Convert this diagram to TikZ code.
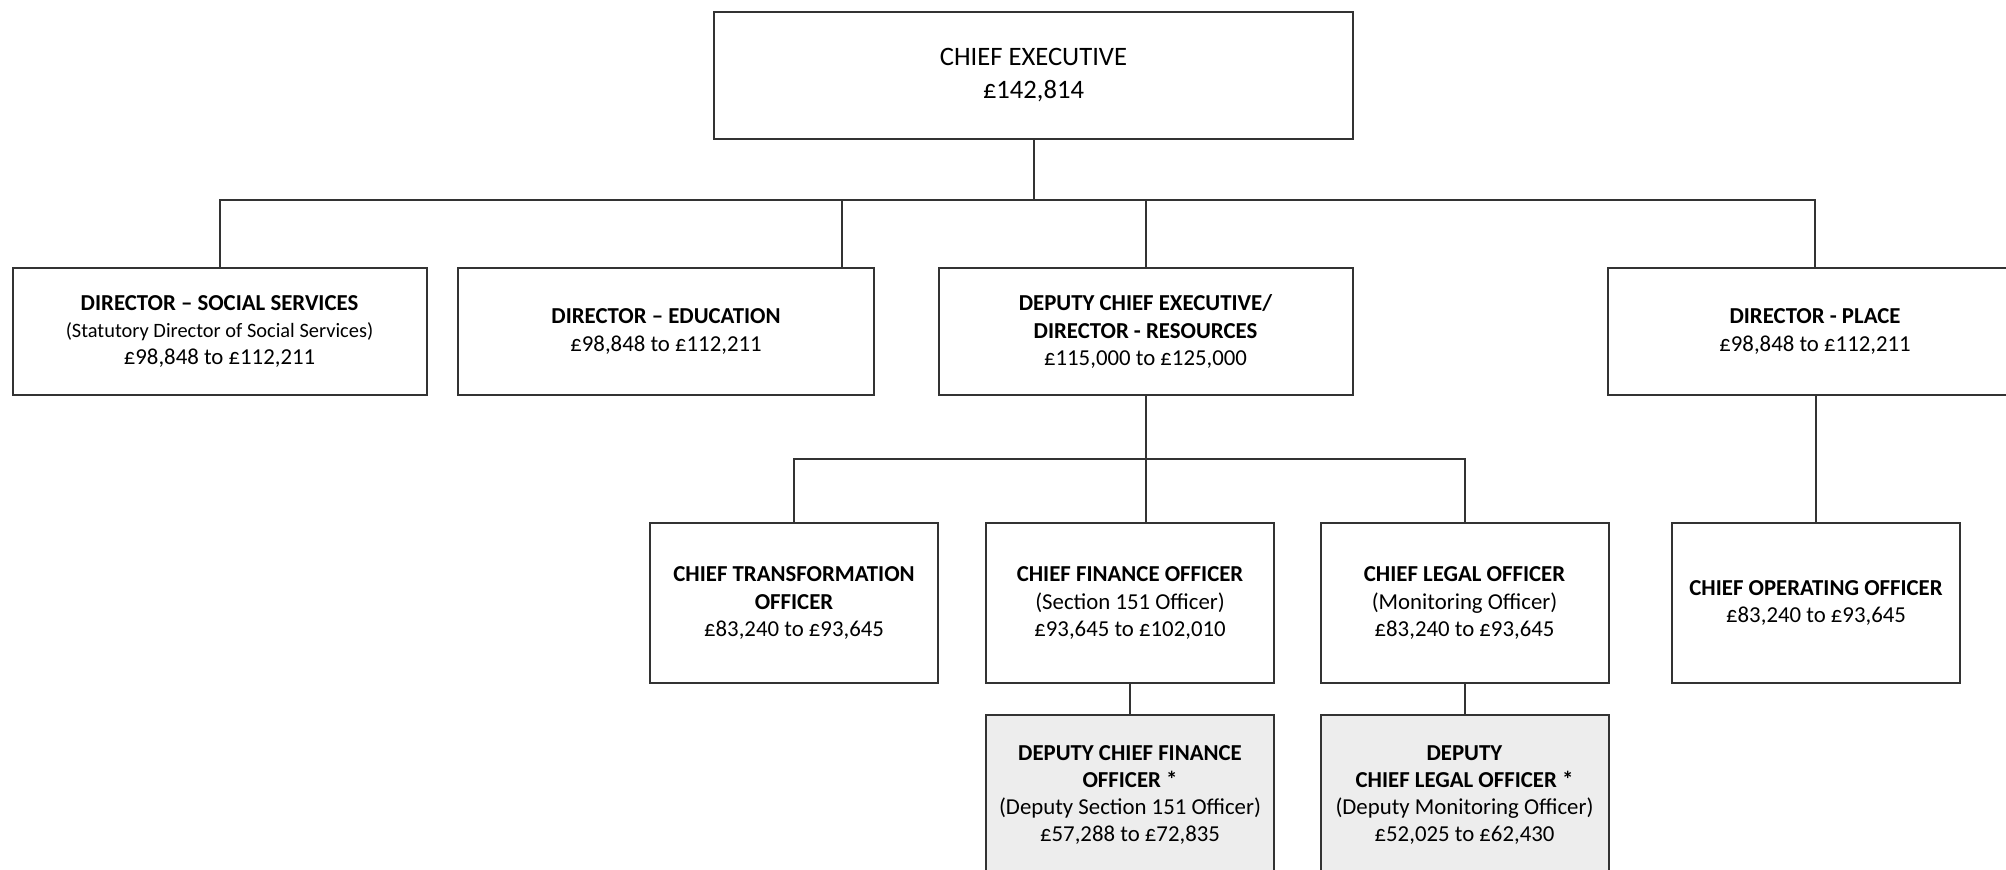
\documentclass[tikz,border=0pt]{standalone}
\usepackage{fontspec}
\setmainfont{Carlito}
\usetikzlibrary{shadows}
\definecolor{linegray}{HTML}{333333}
\definecolor{depfill}{HTML}{EDEDED}
\begin{document}
\begin{tikzpicture}[x=0.5pt,y=-0.5pt,
  boxbase/.style={draw=linegray, line width=1pt, fill=white, align=center, inner sep=0pt,
     drop shadow={shadow xshift=0.7pt, shadow yshift=-0.7pt, fill=black!45, opacity=0.8},
     font=\fontsize{11.4}{13.6}\selectfont},
  topbox/.style={boxbase, minimum width=207pt, minimum height=63.5pt},
  offbox/.style={boxbase, minimum width=144pt, minimum height=80pt},
  depbox/.style={offbox, fill=depfill},
  ceobox/.style={boxbase, minimum width=319.5pt, minimum height=63.5pt, font=\fontsize{13.3}{16.5}\selectfont},
  conn/.style={draw=linegray, line width=1pt}
]
\useasboundingbox (0,0) rectangle (2006,870);
\clip (0,0) rectangle (2006,870);

\node[ceobox] (ceo) at (1033.5,75.5) {CHIEF EXECUTIVE\\£142,814};

\node[topbox] (soc) at (219.5,331.5) {\textbf{DIRECTOR – SOCIAL SERVICES}\\{\fontsize{10.2}{13.6}\selectfont(Statutory Director of Social Services)}\\£98,848 to £112,211};
\node[topbox, minimum width=208pt] (edu) at (666,331.5) {\textbf{DIRECTOR – EDUCATION}\\£98,848 to £112,211};
\node[topbox] (dce) at (1145.5,331.5) {\textbf{DEPUTY CHIEF EXECUTIVE/}\\\textbf{DIRECTOR - RESOURCES}\\£115,000 to £125,000};
\node[topbox] (place) at (1815,331.5) {\textbf{DIRECTOR - PLACE}\\£98,848 to £112,211};

\node[offbox] (cto) at (794,603) {\textbf{CHIEF TRANSFORMATION}\\\textbf{OFFICER}\\£83,240 to £93,645};
\node[offbox] (cfo) at (1130,603) {\textbf{CHIEF FINANCE OFFICER}\\(Section 151 Officer)\\£93,645 to £102,010};
\node[offbox] (clo) at (1464.5,603) {\textbf{CHIEF LEGAL OFFICER}\\(Monitoring Officer)\\£83,240 to £93,645};
\node[offbox] (coo) at (1816,603) {\textbf{CHIEF OPERATING OFFICER}\\£83,240 to £93,645};

\node[depbox] (dcfo) at (1130,795) {\textbf{DEPUTY CHIEF FINANCE}\\\textbf{OFFICER *}\\(Deputy Section 151 Officer)\\£57,288 to £72,835};
\node[depbox] (dclo) at (1464.5,795) {\textbf{DEPUTY}\\\textbf{CHIEF LEGAL OFFICER *}\\(Deputy Monitoring Officer)\\£52,025 to £62,430};

% bus coordinates
\coordinate (bus1) at (1033.5,200);
\coordinate (eduj) at (842,200);
\coordinate (bus2) at (1145.5,459);

\draw[conn] (ceo.south) -- (bus1);
\draw[conn] (soc.north) -- (soc.north |- bus1) -- (place.north |- bus1) -- (place.north);
\draw[conn] (eduj) -- (eduj |- edu.north);
\draw[conn] (dce.north |- bus1) -- (dce.north);

\draw[conn] (dce.south) -- (dce.south |- cfo.north);
\draw[conn] (cto.north) -- (cto.north |- bus2) -- (clo.north |- bus2) -- (clo.north);
\draw[conn] (place.south) -- (place.south -| coo.north) -- (coo.north);

\draw[conn] (cfo.south) -- (dcfo.north);
\draw[conn] (clo.south) -- (dclo.north);
\end{tikzpicture}
\end{document}
